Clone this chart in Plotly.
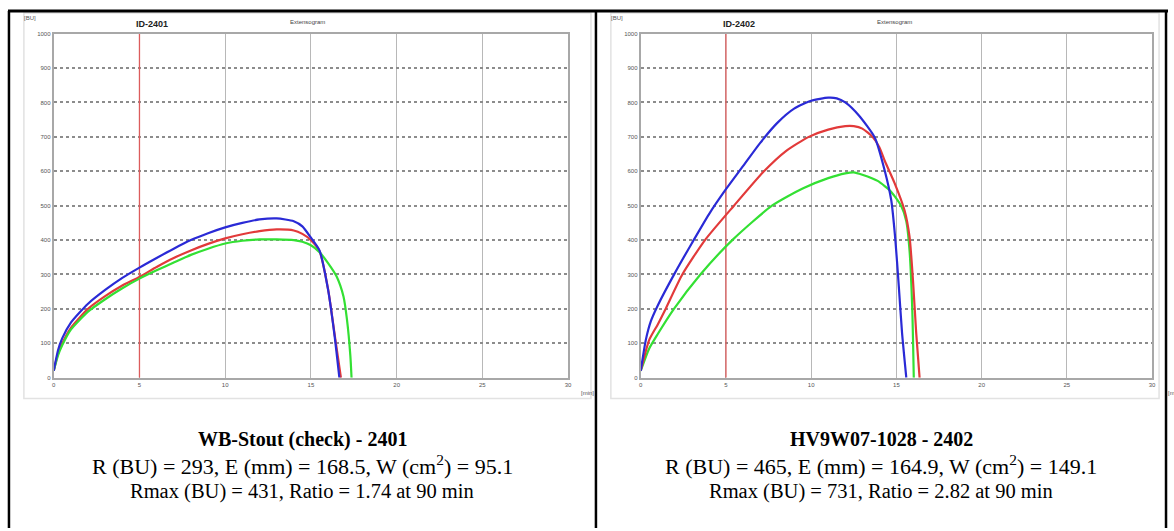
import plotly.graph_objects as go

W, H = 1174, 531

# ---------------- data ----------------
# Left chart: ID-2401 (WB-Stout check)
l_blue_x = [0, 0.25, 0.5, 1, 2, 3, 4, 5, 6, 7, 8, 9, 10, 11, 12, 13, 14, 14.5, 15, 15.5, 16.0, 16.38, 16.66]
l_blue_y = [20, 80, 115, 160, 215, 255, 290, 320, 348, 375, 400, 420, 437, 450, 460, 463, 455, 440, 407, 370, 256, 122, 0]
l_red_x = [0, 0.25, 0.5, 1, 2, 3, 4, 5, 6, 7, 8, 9, 10, 11, 12, 13, 14, 14.5, 15, 15.5, 16.0, 16.4, 16.75]
l_red_y = [20, 70, 100, 145, 200, 237, 268, 293, 322, 348, 370, 389, 405, 417, 426, 431, 428, 418, 400, 368, 258, 120, 0]
l_green_x = [0, 0.25, 0.5, 1, 2, 3, 4, 5, 6, 7, 8, 9, 10, 11, 12, 13, 14, 14.5, 15, 15.5, 16.0, 16.5, 16.9, 17.1, 17.3, 17.37]
l_green_y = [20, 65, 95, 140, 192, 228, 260, 288, 312, 335, 357, 375, 390, 398, 402, 402, 400, 395, 385, 365, 333, 294, 236, 170, 64, 0]

# Right chart: ID-2402 (HV9W07-1028)
r_blue_x = [0, 0.3, 0.6, 1, 2, 3, 4, 5, 6, 7, 8, 9, 10, 11, 11.5, 12, 12.8, 13.74, 14.32, 14.7, 14.94, 15.14, 15.33, 15.58]
r_blue_y = [20, 110, 165, 210, 304, 391, 475, 548, 615, 682, 740, 782, 805, 814, 812, 800, 762, 697, 601, 515, 400, 266, 131, 0]
r_red_x = [0, 0.5, 1, 1.46, 2.44, 3.77, 5.47, 7.23, 8.5, 9.86, 11, 12, 12.5, 13, 13.6, 14, 14.32, 14.9, 15.48, 15.77, 15.97, 16.16, 16.36]
r_red_y = [20, 110, 155, 200, 300, 400, 500, 600, 658, 700, 721, 731, 731, 724, 700, 670, 630, 565, 486, 410, 285, 131, 0]
r_green_x = [0, 0.5, 1, 1.95, 3.5, 5.37, 7.7, 9.5, 11, 12, 12.5, 13, 13.9, 14.7, 15.29, 15.58, 15.77, 15.93, 16.02]
r_green_y = [20, 85, 127, 200, 300, 400, 500, 550, 580, 594, 597, 590, 572, 540, 498, 455, 370, 200, 0]

ref_time = [5, 5]          # red vertical reference line at 5 min
x_ticks = [0, 5, 10, 15, 20, 25, 30]
y_ticks = [0, 100, 200, 300, 400, 500, 600, 700, 800, 900, 1000]

chart_ids = ["ID-2401", "ID-2402"]
chart_sub = "Extensogram"
captions_title = ["WB-Stout (check) - 2401", "HV9W07-1028 - 2402"]
captions_l2 = ["R (BU) = 293, E (mm) = 168.5, W (cm<sup>2</sup>) = 95.1",
               "R (BU) = 465, E (mm) = 164.9, W (cm<sup>2</sup>) = 149.1"]
captions_l3 = ["Rmax (BU) = 431, Ratio = 1.74 at 90 min",
               "Rmax (BU) = 731, Ratio = 2.82 at 90 min"]

BLUE, RED, GREEN = "#2a2ad6", "#e23a3a", "#33e033"

def px(x):
    return x / W

def py(y):
    return 1 - y / H

fig = go.Figure()

series = [
    [(l_red_x, l_red_y, RED), (l_green_x, l_green_y, GREEN), (l_blue_x, l_blue_y, BLUE)],
    [(r_green_x, r_green_y, GREEN), (r_red_x, r_red_y, RED), (r_blue_x, r_blue_y, BLUE)],
]

for i, group in enumerate(series):
    xa = "x" if i == 0 else "x2"
    ya = "y" if i == 0 else "y2"
    for xs, ys, c in group:
        fig.add_trace(go.Scatter(x=xs, y=ys, mode="lines", xaxis=xa, yaxis=ya,
                                 line=dict(color=c, width=2.2, shape="spline", smoothing=0.6),
                                 showlegend=False))

plot_left = [(52, 569), (642, 1156)]
plot_top, plot_bot = 31, 379

axis_common = dict(showline=True, linecolor="#a8a8a8", linewidth=2, mirror=True,
                   zeroline=False, ticks="", tickfont=dict(size=6, color="#555555", family="Arial"))
for i, (x0, x1) in enumerate(plot_left):
    sfx = "" if i == 0 else "2"
    fig.update_layout(**{
        "xaxis" + sfx: dict(domain=[px(x0), px(x1)], range=[0, 30], tickvals=x_ticks,
                            showgrid=True, gridcolor="#b8b8b8", gridwidth=1,
                            anchor="y" + sfx, **axis_common),
        "yaxis" + sfx: dict(domain=[py(plot_bot), py(plot_top)], range=[0, 1000], tickvals=y_ticks,
                            showgrid=True, gridcolor="#8c8c8c", gridwidth=1.5, griddash="dot",
                            anchor="x" + sfx, **axis_common),
    })

shapes = []
# red reference lines at 5 min
for i in range(2):
    sfx = "" if i == 0 else "2"
    shapes.append(dict(type="line", xref="x" + sfx, yref="y" + sfx, x0=ref_time[0], x1=ref_time[1],
                       y0=y_ticks[0], y1=y_ticks[-1], line=dict(color="#dc5c5c", width=1.3), layer="between"))
# chart image frames
for (a, b) in [(22, 592), (612, 1163)]:
    shapes.append(dict(type="rect", xref="paper", yref="paper", x0=px(a), x1=px(b), y0=py(400), y1=py(10),
                       line=dict(color="#e2e2e2", width=1.5), fillcolor="rgba(0,0,0,0)", layer="below"))
# table borders
shapes.append(dict(type="line", xref="paper", yref="paper", x0=px(6), x1=px(1172), y0=py(8), y1=py(8),
                   line=dict(color="black", width=3)))
for xl, wd in [(7, 2.5), (597, 2.5), (1170, 2.5)]:
    shapes.append(dict(type="line", xref="paper", yref="paper", x0=px(xl), x1=px(xl), y0=py(531), y1=py(8),
                       line=dict(color="black", width=wd)))

annotations = []
for i, off in enumerate([0, 590]):
    annotations.append(dict(x=px(28 + off), y=py(15), xref="paper", yref="paper", text="[BU]",
                            showarrow=False, font=dict(size=6, color="#555555", family="Arial"),
                            xanchor="center", yanchor="middle"))
    annotations.append(dict(x=px(151 + off), y=py(21), xref="paper", yref="paper", text="<b>" + chart_ids[i] + "</b>",
                            showarrow=False, font=dict(size=9, color="#222222", family="Arial"),
                            xanchor="center", yanchor="middle"))
    annotations.append(dict(x=px(307 + off), y=py(19), xref="paper", yref="paper", text=chart_sub,
                            showarrow=False, font=dict(size=6, color="#444444", family="Arial"),
                            xanchor="center", yanchor="middle"))
    annotations.append(dict(x=px(580 + off), y=py(394), xref="paper", yref="paper", text="[min]",
                            showarrow=False, font=dict(size=6, color="#555555", family="Arial"),
                            xanchor="left", yanchor="middle"))

for i, cx in enumerate([302, 884]):
    annotations.append(dict(x=px(cx), y=py(441), xref="paper", yref="paper",
                            text="<b>" + captions_title[i] + "</b>", showarrow=False,
                            font=dict(size=20, color="black", family="Liberation Serif"),
                            xanchor="center", yanchor="middle"))
    annotations.append(dict(x=px(cx), y=py(467), xref="paper", yref="paper",
                            text=captions_l2[i], showarrow=False,
                            font=dict(size=22, color="black", family="Liberation Serif"),
                            xanchor="center", yanchor="middle"))
    annotations.append(dict(x=px(cx), y=py(494), xref="paper", yref="paper",
                            text=captions_l3[i], showarrow=False,
                            font=dict(size=20.5, color="black", family="Liberation Serif"),
                            xanchor="center", yanchor="middle"))

fig.update_layout(width=W, height=H, margin=dict(l=0, r=0, t=0, b=0),
                  paper_bgcolor="white", plot_bgcolor="white",
                  shapes=shapes, annotations=annotations, showlegend=False)

fig.write_html("out.html")
